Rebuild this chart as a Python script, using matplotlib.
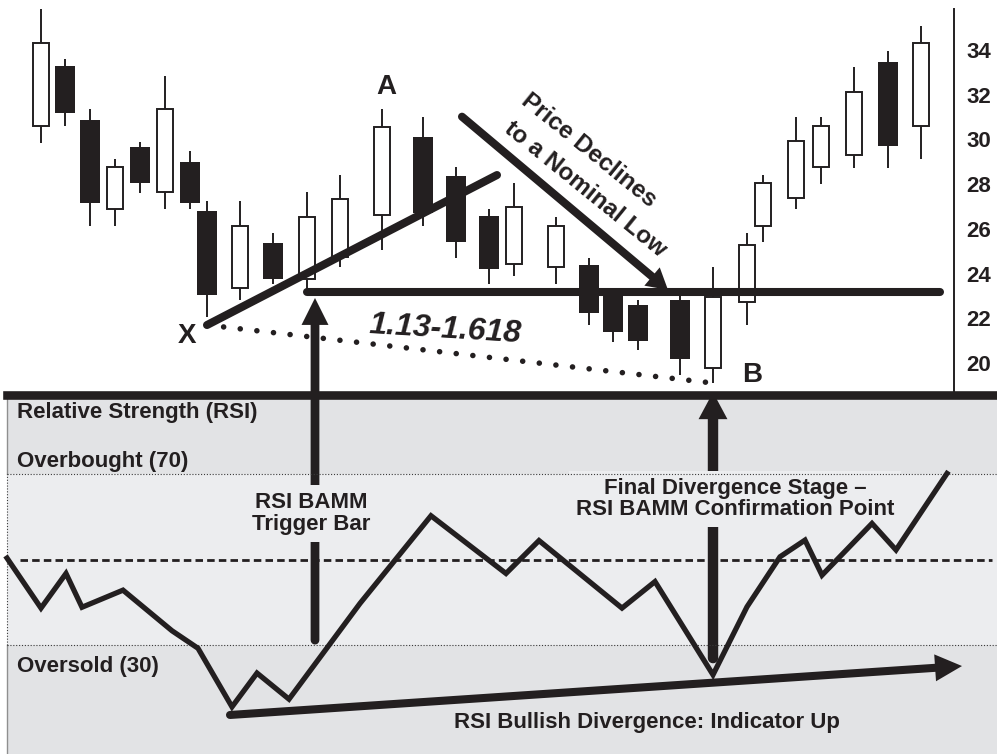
"""
RSI BAMM bullish divergence schematic: candlesticks over an RSI panel.
"""

import matplotlib
matplotlib.use("Agg")
import matplotlib.pyplot as plt
from matplotlib.patches import Rectangle

plt.rcParams["font.family"] = ["Liberation Sans", "DejaVu Sans"]

# ---- price bars (t = horizontal chart position of each session) ----
bar_t = [41, 65, 90, 115, 140, 165, 190, 207, 240, 273, 307, 340, 382, 423, 456,
         489, 514, 556, 589, 613, 638, 680, 713, 747, 763, 796, 821, 854, 888, 921]
bar_open = [30.60, 33.30, 30.87, 26.88, 29.65, 27.64, 29.00, 26.79, 23.37, 25.36,
            23.75, 24.76, 26.62, 30.10, 28.36, 26.58, 24.42, 24.28, 24.38, 23.04,
            22.60, 22.82, 19.76, 22.72, 26.14, 27.39, 28.75, 29.30, 33.45, 30.60]
bar_high = [35.82, 33.58, 31.36, 29.14, 29.89, 32.85, 29.50, 27.26, 27.26, 25.80,
            27.65, 28.40, 31.36, 30.99, 28.75, 26.90, 28.04, 26.54, 24.68, 23.22,
            22.82, 23.04, 24.31, 25.80, 28.41, 30.99, 30.99, 33.23, 33.97, 35.09]
bar_low = [29.85, 30.60, 26.13, 26.13, 27.62, 26.88, 26.88, 22.07, 22.82, 23.53,
           23.27, 24.31, 25.06, 26.13, 24.68, 23.53, 23.91, 23.53, 21.70, 20.95,
           20.58, 19.47, 19.09, 21.70, 25.40, 26.88, 28.01, 28.74, 28.74, 29.11]
bar_close = [34.33, 31.17, 27.14, 28.77, 28.07, 31.36, 27.14, 23.04, 26.14, 23.77,
             26.52, 27.35, 30.57, 26.70, 25.43, 24.19, 27.00, 26.14, 22.25, 21.37,
             21.00, 20.17, 22.97, 25.28, 28.04, 29.94, 30.61, 32.11, 29.72, 34.33]
price_ticks = [20, 22, 24, 26, 28, 30, 32, 34]

# ---- RSI line ----
rsi_t = [7, 41, 66, 82, 123, 172, 198, 232, 257, 289, 360, 431, 506, 539, 622,
         655, 713, 747, 780, 805, 822, 872, 896, 947]
rsi_val = [50.4, 38.7, 46.8, 38.9, 42.9, 33.4, 29.3, 15.6, 23.5, 17.4, 39.8, 60.3,
           46.8, 54.5, 38.7, 44.9, 23.1, 39.0, 50.7, 54.6, 46.4, 58.5, 52.3, 70.2]
overbought, oversold, midline = 70, 30, 50

INK = "#231f20"
BAND_OUT = "#e2e3e5"
BAND_IN = "#ecedef"

W, H = 997, 754
split = 395  # pixel row of the panel divider

fig = plt.figure(figsize=(W / 100, H / 100), dpi=100)
ax_p = fig.add_axes([0, (H - split) / H, 954 / W, split / H])
ax_r = fig.add_axes([0, 0, 1, (H - split) / H])


def arrow(ax, tail, tip, lw, head_len, head_w, tail_coords="data", tip_coords="data"):
    """Thick shaft with round tail plus a sharp filled head."""
    ax.annotate("", xy=tip, xycoords=tip_coords, xytext=tail, textcoords=tail_coords,
                annotation_clip=False, zorder=3,
                arrowprops=dict(arrowstyle="-", lw=lw, color=INK, capstyle="round",
                                shrinkA=0, shrinkB=head_len * 0.6))
    ax.annotate("", xy=tip, xycoords=tip_coords, xytext=tail, textcoords=tail_coords,
                annotation_clip=False, zorder=3,
                arrowprops=dict(arrowstyle=f"-|>,head_length={head_len},head_width={head_w}",
                                lw=0, color=INK, mutation_scale=1, shrinkA=0, shrinkB=0))


# ---------------- price panel ----------------
ax_p.set_xlim(0, 954)
ax_p.set_ylim(18.57, 36.24)
ax_p.patch.set_visible(False)
for side in ("top", "left", "bottom"):
    ax_p.spines[side].set_visible(False)
ax_p.spines["right"].set_linewidth(1.4)
ax_p.spines["right"].set_color(INK)
ax_p.spines["right"].set_bounds(18.57, 35.82)
ax_p.set_xticks([])
ax_p.yaxis.tick_right()
ax_p.set_yticks(price_ticks)
ax_p.tick_params(axis="y", length=0, pad=9, labelsize=16, labelcolor=INK)
for lab in ax_p.get_yticklabels():
    lab.set_fontweight("bold")

ax_p.vlines(bar_t, bar_low, bar_high, color=INK, lw=1.4, zorder=1)
up = [i for i in range(len(bar_t)) if bar_close[i] >= bar_open[i]]
dn = [i for i in range(len(bar_t)) if bar_close[i] < bar_open[i]]
ax_p.bar([bar_t[i] for i in up], [bar_close[i] - bar_open[i] for i in up],
         bottom=[bar_open[i] for i in up], width=16, facecolor="white",
         edgecolor=INK, lw=1.4, zorder=2)
ax_p.bar([bar_t[i] for i in dn], [bar_open[i] - bar_close[i] for i in dn],
         bottom=[bar_close[i] for i in dn], width=20.5, color=INK, lw=0, zorder=2)

# pattern annotations
ax_p.plot([207, 497], [21.70, 28.41], color=INK, lw=5.8, solid_capstyle="round", zorder=3)
ax_p.plot([307, 940], [23.18, 23.18], color=INK, lw=5.8, solid_capstyle="round", zorder=3)
ax_p.plot([207, 712], [21.70, 19.11], color=INK, lw=4.0, ls=(0, (0.01, 3.0)),
          dash_capstyle="round", zorder=3)
arrow(ax_p, (462, 31.02), (668, 23.27), lw=5.8, head_len=15, head_w=8.6)

bold = dict(color=INK, fontweight="bold", ha="center", va="center")
ax_p.text(386, 32.35, "A", fontsize=20, **bold)
ax_p.text(187, 21.21, "X", fontsize=20, **bold)
ax_p.text(752, 19.45, "B", fontsize=20, **bold)
ax_p.text(445, 21.48, "1.13-1.618", fontsize=23, style="italic", rotation=-3.5,
          rotation_mode="anchor", **bold)
ax_p.text(589, 29.53, "Price Declines", fontsize=17.5, rotation=-39,
          rotation_mode="anchor", **bold)
ax_p.text(585, 27.78, "to a Nominal Low", fontsize=17.5, rotation=-39,
          rotation_mode="anchor", **bold)

# ---------------- RSI panel ----------------
r_lo, r_hi = 4.57, 88.55
ax_r.set_xlim(0, 997)
ax_r.set_ylim(r_lo, r_hi)
ax_r.axis("off")

ax_r.add_patch(Rectangle((7, r_lo), 990, r_hi - r_lo, facecolor=BAND_OUT, lw=0, zorder=0))
ax_r.add_patch(Rectangle((7, oversold), 990, overbought - oversold, facecolor=BAND_IN,
                         lw=0, zorder=0.5))
ax_r.plot([7, 7], [r_lo, oversold], color="#8f8f8f", lw=1, zorder=1)
ax_r.plot([7, 7], [overbought, r_hi], color="#8f8f8f", lw=1, zorder=1)
dots = dict(color="#3a3a3a", lw=0.8, ls=(0, (1, 1.6)), zorder=5)
ax_r.plot([7, 997], [overbought, overbought], **dots)
ax_r.plot([7, 997], [oversold, oversold], **dots)
ax_r.plot([7, 7], [oversold, overbought], **dots)
ax_r.plot([20, 992], [midline, midline], color=INK, lw=2, ls=(0, (2.7, 1.5)), zorder=5)

ax_r.plot(rsi_t, rsi_val, color=INK, lw=3.8, solid_joinstyle="miter", zorder=6)

# divider between the panels
ax_r.plot([7, 997], [r_hi, r_hi], color=INK, lw=6.2, clip_on=False, zorder=2.5)

arrow(ax_r, (315, 31.2), (315, 22.91), lw=6.3, head_len=19.4, head_w=9.7,
      tip_coords=ax_p.transData)
arrow(ax_r, (713, 27.0), (713, 89.2), lw=7.5, head_len=19.4, head_w=10.4)
arrow(ax_r, (230, 13.7), (962, 25.15), lw=5.8, head_len=19.4, head_w=9.7)

lab = dict(color=INK, fontweight="bold", fontsize=16, va="center")
ax_r.text(17, 84.34, "Relative Strength (RSI)", ha="left", **lab)
ax_r.text(17, 73.11, "Overbought (70)", ha="left", **lab)
ax_r.text(17, 24.94, "Oversold (30)", ha="left", **lab)
ax_r.text(647, 11.85, "RSI Bullish Divergence: Indicator Up", ha="center", **lab)

boxed = dict(facecolor=BAND_IN, edgecolor="none", boxstyle="square,pad=0.3")
ax_r.text(311, 60.82, "RSI BAMM\nTrigger Bar", ha="center", linespacing=1.05,
          multialignment="center", bbox=boxed, zorder=4, **lab)
ax_r.text(735, 64.22, "Final Divergence Stage \u2013\nRSI BAMM Confirmation Point",
          ha="center", linespacing=1.0, multialignment="center", bbox=boxed,
          zorder=4, **lab)

fig.savefig("out.png", dpi=100)
